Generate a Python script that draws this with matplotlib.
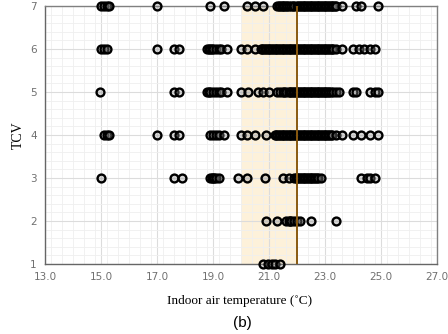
import matplotlib
matplotlib.use("Agg")
import matplotlib.pyplot as plt
from matplotlib.ticker import MultipleLocator

# TCV level -> indoor air temperatures (deg C)
tcv7 = [15.0, 15.1, 15.2, 15.3, 17.0, 18.9, 19.4, 20.2, 20.5, 20.8,
        21.3, 21.35, 21.4, 21.45, 21.5, 21.55, 21.6, 21.65, 21.7, 21.8, 21.85,
        21.9, 22.0, 22.05, 22.1, 22.15, 22.2, 22.25, 22.3, 22.35, 22.4, 22.45,
        22.5, 22.55, 22.6, 22.65, 22.7, 22.75, 22.8, 22.85, 22.9, 22.95, 23.0,
        23.05, 23.1, 23.15, 23.2, 23.25, 23.3, 23.35, 23.4, 23.6, 24.1, 24.3, 24.9]
tcv6 = [15.0, 15.1, 15.2, 17.0, 17.6, 17.8, 18.8, 18.85, 18.9, 18.95, 19.0,
        19.1, 19.2, 19.3, 19.5, 20.0, 20.2, 20.5, 20.7, 20.75, 20.8, 20.85,
        20.9, 20.95, 21.0, 21.05, 21.1, 21.15, 21.2, 21.25, 21.3, 21.35, 21.4,
        21.45, 21.5, 21.55, 21.6, 21.65, 21.7, 21.75, 21.8, 21.85, 21.9, 21.95,
        22.0, 22.05, 22.1, 22.15, 22.2, 22.25, 22.3, 22.35, 22.4, 22.45, 22.5,
        22.55, 22.6, 22.65, 22.7, 22.75, 22.8, 22.85, 22.9, 22.95, 23.0, 23.05,
        23.1, 23.15, 23.2, 23.25, 23.3, 23.4, 23.6, 24.0, 24.2, 24.4, 24.6, 24.8]
tcv5 = [14.95, 17.6, 17.8, 18.8, 18.85, 18.9, 19.0, 19.1, 19.2, 19.3, 19.5,
        20.0, 20.25, 20.6, 20.8, 21.0, 21.3, 21.4, 21.5, 21.55, 21.6, 21.7,
        21.75, 21.8, 21.85, 21.9, 21.95, 22.0, 22.05, 22.1, 22.15, 22.2, 22.25,
        22.3, 22.35, 22.4, 22.45, 22.5, 22.55, 22.6, 22.65, 22.7, 22.75, 22.8,
        22.85, 22.9, 22.95, 23.0, 23.05, 23.1, 23.15, 23.2, 23.3, 23.4, 23.5,
        24.0, 24.1, 24.6, 24.8, 24.9]
tcv4 = [15.1, 15.2, 15.3, 17.0, 17.6, 17.8, 18.9, 19.0, 19.1, 19.2, 19.4,
        20.0, 20.2, 20.5, 20.9, 21.2, 21.25, 21.3, 21.35, 21.4, 21.45, 21.5,
        21.55, 21.6, 21.65, 21.7, 21.75, 21.8, 21.85, 21.9, 21.95, 22.0, 22.05,
        22.1, 22.15, 22.2, 22.25, 22.3, 22.35, 22.4, 22.45, 22.5, 22.55, 22.6,
        22.65, 22.7, 22.75, 22.8, 22.85, 22.9, 22.95, 23.0, 23.05, 23.1, 23.15,
        23.2, 23.25, 23.4, 23.6, 24.0, 24.3, 24.6, 24.9]
tcv3 = [15.0, 17.6, 17.9, 18.9, 18.95, 19.0, 19.05, 19.1, 19.2, 19.9, 20.2,
        20.85, 21.5, 21.7, 21.9, 21.95, 22.0, 22.05, 22.1, 22.15, 22.2, 22.25,
        22.3, 22.35, 22.4, 22.45, 22.5, 22.55, 22.6, 22.65, 22.7, 22.75, 22.85,
        24.3, 24.5, 24.6, 24.8]
tcv2 = [20.9, 21.3, 21.6, 21.7, 21.75, 21.8, 21.9, 22.0, 22.1, 22.5, 23.4]
tcv1 = [20.8, 20.95, 21.1, 21.2, 21.4]

levels = [7, 6, 5, 4, 3, 2, 1]
series = [tcv7, tcv6, tcv5, tcv4, tcv3, tcv2, tcv1]

band = (20.0, 22.0)
vline = 22.0
xticks = [13.0, 15.0, 17.0, 19.0, 21.0, 23.0, 25.0, 27.0]
yticks = [1, 2, 3, 4, 5, 6, 7]

fig = plt.figure(figsize=(4.48, 3.34), dpi=100)
ax = fig.add_axes([0.1004, 0.2096, 0.875, 0.7724])

ax.axvspan(band[0], band[1], color="#fdf1da", zorder=0.5, lw=0)
for lv, vals in zip(levels, series):
    ax.scatter(vals, [lv] * len(vals), s=32, facecolor=(0.55, 0.55, 0.55, 0.35),
               edgecolor="black", linewidths=1.7, zorder=3, clip_on=False)
ax.axvline(vline, color="#8a5a10", lw=1.4, zorder=4)

ax.set_xlim(13, 27)
ax.set_ylim(1, 7)
ax.set_xticks(xticks)
ax.set_xticklabels([f"{v:.1f}" for v in xticks])
ax.set_yticks(yticks)
ax.xaxis.set_minor_locator(MultipleLocator(0.4))
ax.yaxis.set_minor_locator(MultipleLocator(0.2))
ax.grid(True, which="major", color="#dcdcdc", lw=0.8, zorder=0)
ax.grid(True, which="minor", color="#efefef", lw=0.6, zorder=0)
ax.set_axisbelow(True)
ax.tick_params(which="both", length=0, labelsize=7.5, labelcolor="#707070", pad=6)
for s in ax.spines.values():
    s.set_color("#808080")
    s.set_linewidth(1.0)
ax.spines["left"].set_color("#666666")
ax.spines["bottom"].set_color("#666666")

fig.text(0.535, 0.098, "Indoor air temperature (˚C)", ha="center", va="center",
         family="Liberation Serif", fontsize=9.5)
fig.text(0.04, 0.595, "TCV", ha="center", va="center", rotation=90,
         family="Liberation Serif", fontsize=10)
fig.text(0.54, 0.033, "(b)", ha="center", va="center",
         family="Liberation Sans", fontsize=11)

fig.savefig("out.png", dpi=100)
